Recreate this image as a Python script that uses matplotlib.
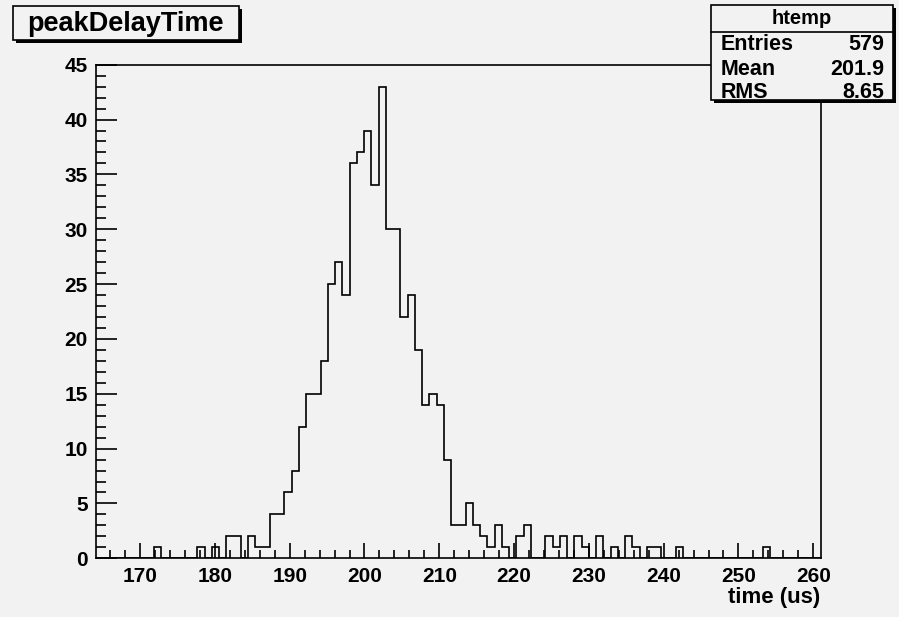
import numpy as np
import matplotlib
matplotlib.use('Agg')
import matplotlib.pyplot as plt
from matplotlib.patches import Rectangle
from matplotlib.ticker import MultipleLocator

plt.rcParams['font.family'] = ['Liberation Sans', 'DejaVu Sans']
plt.rcParams['font.weight'] = 'bold'

# histogram htemp: 100 bins
x_min, x_max = 164.1, 261.0
n_bins = 100
# non-empty bins (bin index -> entries)
filled_bins = [8, 14, 16, 18, 19, 21, 22, 23, 24, 25, 26, 27, 28, 29, 30, 31, 32, 33,
               34, 35, 36, 37, 38, 39, 40, 41, 42, 43, 44, 45, 46, 47, 48, 49, 50, 51,
               52, 53, 54, 55, 56, 58, 59, 62, 63, 64, 66, 67, 69, 71, 73, 74, 76, 77,
               80, 92]
filled_counts = [1, 1, 1, 2, 2, 2, 1, 1, 4, 4, 6, 8, 12, 15, 15, 18, 25, 27,
                 24, 36, 37, 39, 34, 43, 30, 30, 22, 24, 19, 14, 15, 14, 9, 3, 3, 5,
                 3, 2, 1, 3, 1, 2, 3, 2, 1, 2, 2, 1, 2, 1, 2, 1, 1, 1,
                 1, 1]

title = 'peakDelayTime'
x_label = 'time (us)'
stats_name = 'htemp'
stats_rows = [('Entries', '579'), ('Mean', '201.9'), ('RMS', '8.65')]

counts = np.zeros(n_bins)
counts[filled_bins] = filled_counts
edges = np.linspace(x_min, x_max, n_bins + 1)

W, H = 899, 617
bg = '#f2f2f2'
fig = plt.figure(figsize=(W / 100, H / 100), dpi=100, facecolor=bg)
ax = fig.add_axes([96 / W, 1 - 558.3 / H, (820.7 - 96) / W, (558.3 - 64.7) / H])
ax.set_facecolor(bg)

ax.stairs(counts, edges, color='black', linewidth=1.2, baseline=0)
ax.set_xlim(x_min, x_max)
ax.set_ylim(0, 45)

ax.xaxis.set_major_locator(MultipleLocator(10))
ax.xaxis.set_minor_locator(MultipleLocator(2))
ax.yaxis.set_major_locator(MultipleLocator(5))
ax.yaxis.set_minor_locator(MultipleLocator(1))
ax.tick_params(axis='x', which='major', direction='in', length=11, width=1.2, labelsize=15, pad=6)
ax.tick_params(axis='x', which='minor', direction='in', length=5.5, width=1.2)
ax.tick_params(axis='y', which='major', direction='in', length=15, width=1.2, labelsize=15, pad=6)
ax.tick_params(axis='y', which='minor', direction='in', length=7.5, width=1.2)
for lab in ax.get_xticklabels() + ax.get_yticklabels():
    lab.set_fontweight('bold')
for side in ['top', 'right', 'bottom', 'left']:
    ax.spines[side].set_linewidth(1.2)

fig.text(820 / W, 1 - 598 / H, x_label, ha='right', va='center', fontsize=16, fontweight='bold')


def px_box(x0, y0, x1, y1):
    # shadow then box, coordinates in pixels from top left
    shadow = Rectangle(((x0 + 3) / W, 1 - (y1 + 3) / H), (x1 - x0) / W, (y1 - y0) / H,
                       transform=fig.transFigure, facecolor='black', edgecolor='black', lw=0)
    box = Rectangle((x0 / W, 1 - y1 / H), (x1 - x0) / W, (y1 - y0) / H,
                    transform=fig.transFigure, facecolor=bg, edgecolor='black', lw=1.2)
    fig.patches.extend([shadow, box])


# title box
px_box(13, 6, 239, 40)
fig.text(125 / W, 1 - 24 / H, title, ha='center', va='center', fontsize=19.5, fontweight='bold')

# stats box
px_box(711, 5, 893, 100)
fig.add_artist(plt.Line2D([711 / W, 893 / W], [1 - 31.5 / H, 1 - 31.5 / H],
                          transform=fig.transFigure, color='black', lw=1.2))
fig.text(802 / W, 1 - 18 / H, stats_name, ha='center', va='center', fontsize=14.5, fontweight='bold')
row_y = [45, 69.5, 93]
for (name, val), yy in zip(stats_rows, row_y):
    fig.text(721 / W, 1 - yy / H, name, ha='left', va='center', fontsize=15.5, fontweight='bold')
    fig.text(884 / W, 1 - yy / H, val, ha='right', va='center', fontsize=15.5, fontweight='bold')

fig.savefig('out.png', dpi=100, facecolor=bg)
